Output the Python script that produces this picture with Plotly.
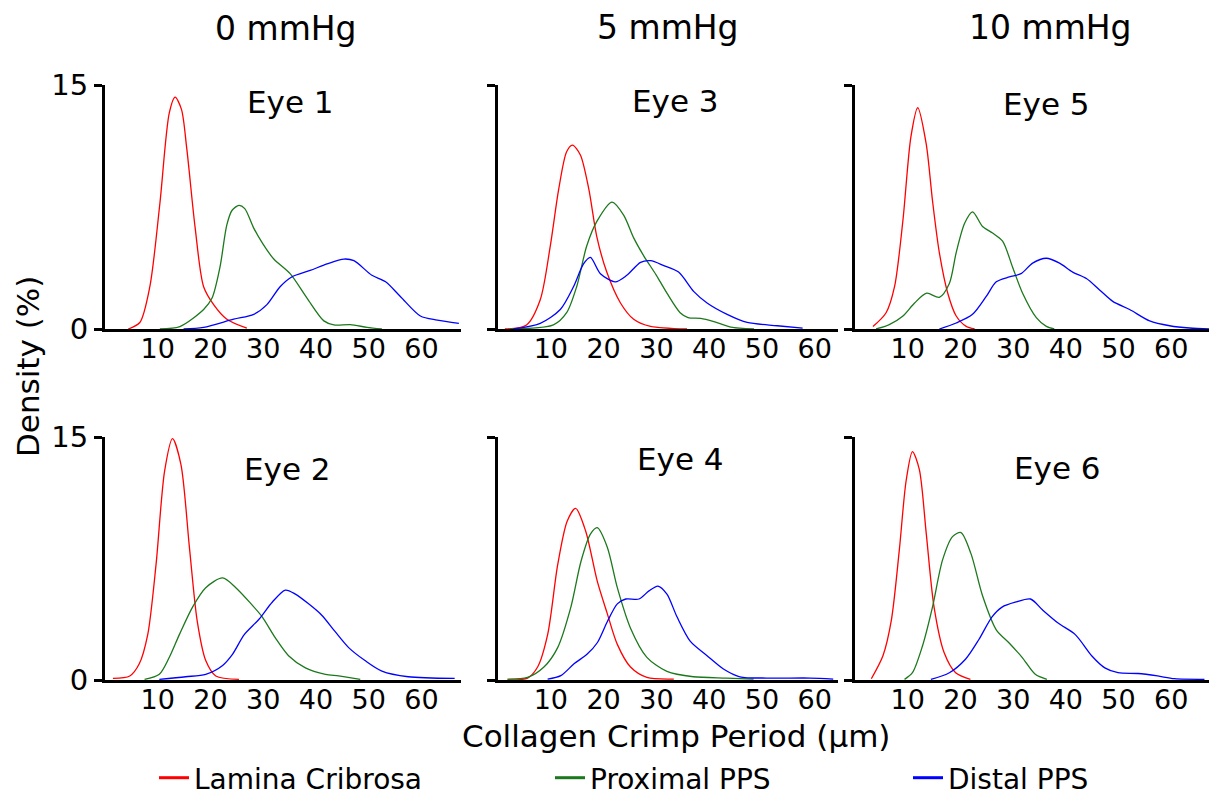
import plotly.graph_objects as go

# ---------------- data ----------------
TICKS_X = [10, 20, 30, 40, 50, 60]
TICKS_Y = [0, 15]
COL_TITLES = ["0 mmHg", "5 mmHg", "10 mmHg"]
SERIES_NAMES = ["Lamina Cribrosa", "Proximal PPS", "Distal PPS"]

# Eye 1
eye1_lc_x = [4.4, 6.6, 8.5, 10.4, 12.2, 13.3, 14.5, 15.5, 17.1, 18.7, 20.6, 23.1, 26.9]
eye1_lc_y = [0, 0.4, 2.6, 7.7, 13.3, 14.25, 13.5, 11.1, 6.2, 2.6, 1.5, 0.6, 0.05]
eye1_pp_x = [10.4, 14.2, 18.7, 20.3, 21.8, 23.1, 24.1, 25.4, 26.5, 28.2, 30.0, 32.0, 35.1, 38.3, 41.5, 43.4, 46.5, 49.7, 52.5]
eye1_pp_y = [0, 0.15, 1.2, 1.9, 3.8, 6.4, 7.3, 7.6, 7.4, 6.2, 5.2, 4.3, 3.4, 1.9, 0.5, 0.25, 0.27, 0.1, 0]
eye1_dp_x = [14.9, 18.7, 24.4, 28.2, 30.7, 33.2, 35.4, 38.9, 42.1, 45.3, 47.2, 50.6, 53.2, 56.0, 59.8, 63.0, 67.1]
eye1_dp_y = [0, 0.1, 0.6, 0.9, 1.5, 2.6, 3.2, 3.6, 4.0, 4.3, 4.2, 3.3, 2.9, 2.0, 0.8, 0.55, 0.35]

# Eye 2
eye2_lc_x = [1.5, 4.7, 6.5, 8.1, 9.7, 11.3, 12.8, 14.4, 16.0, 17.5, 19.1, 21.0, 25.4]
eye2_lc_y = [0.1, 0.25, 1.0, 2.8, 7.2, 12.9, 14.9, 13.3, 8.2, 3.6, 1.2, 0.25, 0.04]
eye2_pp_x = [7.5, 10.3, 12.2, 14.1, 16.6, 19.1, 22.3, 24.8, 27.7, 29.8, 32.3, 34.8, 38.0, 41.8, 44.3, 48.4]
eye2_pp_y = [0.04, 0.35, 1.4, 2.8, 4.5, 5.7, 6.3, 5.7, 4.7, 3.9, 2.6, 1.5, 0.75, 0.35, 0.25, 0.04]
eye2_dp_x = [10.3, 15.3, 19.1, 22.3, 24.2, 26.4, 29.2, 31.7, 34.2, 36.1, 38.6, 41.1, 43.6, 46.2, 49.3, 52.5, 57.5, 66.3]
eye2_dp_y = [0.04, 0.2, 0.35, 0.9, 1.6, 2.8, 3.75, 4.8, 5.55, 5.3, 4.7, 4.0, 3.0, 2.0, 1.2, 0.55, 0.2, 0.1]

# Eye 3
eye3_lc_x = [1.3, 5.4, 8.0, 9.9, 11.5, 13.0, 14.1, 15.6, 17.2, 18.7, 20.6, 23.2, 25.7, 28.9, 35.8]
eye3_lc_y = [0, 0.25, 1.8, 5.1, 8.6, 10.9, 11.3, 10.7, 8.6, 5.7, 3.5, 1.6, 0.6, 0.16, 0]
eye3_pp_x = [2.3, 10.5, 13.0, 14.9, 16.8, 18.7, 21.6, 23.8, 25.7, 27.6, 30.0, 32.0, 34.5, 36.0, 38.4, 40.9, 44.1, 48.5]
eye3_pp_y = [0, 0.25, 1.0, 2.6, 5.1, 6.6, 7.8, 7.0, 5.6, 4.5, 3.3, 2.2, 1.0, 0.7, 0.65, 0.45, 0.12, 0]
eye3_dp_x = [2.9, 8.0, 11.8, 14.3, 16.2, 17.5, 19.4, 22.2, 24.4, 27.0, 28.9, 31.4, 34.2, 37.1, 39.6, 43.4, 47.2, 52.9, 57.7]
eye3_dp_y = [0, 0.35, 1.2, 2.6, 4.0, 4.4, 3.4, 2.9, 3.3, 4.1, 4.2, 3.9, 3.5, 2.3, 1.6, 0.9, 0.4, 0.2, 0.05]

# Eye 4
eye4_lc_x = [1.8, 5.6, 7.5, 9.4, 11.3, 13.1, 14.7, 16.6, 18.8, 20.7, 22.6, 25.1, 28.2, 33.3]
eye4_lc_y = [0, 0.12, 0.8, 2.8, 7.1, 9.8, 10.6, 9.2, 6.1, 4.1, 2.2, 0.8, 0.16, 0.06]
eye4_pp_x = [1.8, 5.6, 8.7, 11.3, 13.8, 15.7, 17.5, 18.8, 20.7, 22.6, 25.1, 28.2, 32.0, 37.0, 43.3, 48.4]
eye4_pp_y = [0.06, 0.16, 0.8, 2.0, 4.5, 7.3, 9.0, 9.4, 8.2, 5.7, 3.2, 1.4, 0.53, 0.2, 0.12, 0.06]
eye4_dp_x = [9.4, 11.9, 14.4, 16.9, 18.8, 20.7, 22.6, 24.2, 26.7, 28.6, 30.3, 32.0, 33.9, 36.4, 39.6, 42.7, 45.8, 50.9, 59.1, 63.5]
eye4_dp_y = [0.06, 0.27, 1.0, 1.6, 2.3, 3.6, 4.7, 5.0, 5.0, 5.5, 5.8, 5.3, 3.9, 2.4, 1.5, 0.68, 0.2, 0.12, 0.12, 0.06]

# Eye 5
eye5_lc_x = [3.4, 5.9, 7.5, 9.1, 10.6, 11.9, 13.5, 14.7, 16.0, 17.6, 19.2, 21.1, 22.7]
eye5_lc_y = [0.15, 1.0, 2.6, 6.7, 11.8, 13.6, 11.4, 7.9, 4.7, 2.2, 0.8, 0.16, 0]
eye5_pp_x = [4.0, 6.5, 9.1, 11.3, 13.6, 16.0, 17.9, 19.2, 20.8, 22.3, 24.2, 26.1, 28.0, 29.9, 31.8, 34.4, 36.3, 37.8]
eye5_pp_y = [0, 0.27, 0.8, 1.6, 2.2, 1.95, 2.8, 4.7, 6.5, 7.2, 6.3, 5.9, 5.4, 3.8, 2.2, 0.7, 0.16, 0]
eye5_dp_x = [16.0, 19.2, 22.3, 24.9, 26.8, 29.3, 31.5, 33.7, 36.3, 38.8, 41.3, 43.9, 46.4, 48.9, 52.1, 55.9, 59.7, 63.5, 68.2]
eye5_dp_y = [0, 0.37, 0.9, 2.0, 2.9, 3.2, 3.4, 4.05, 4.35, 4.05, 3.5, 3.1, 2.4, 1.7, 1.2, 0.5, 0.2, 0.06, 0]

# Eye 6
eye6_lc_x = [3.1, 5.3, 6.9, 8.4, 9.7, 10.9, 12.2, 13.5, 15.0, 16.9, 19.1, 21.9]
eye6_lc_y = [0.08, 1.5, 3.7, 8.0, 12.3, 14.1, 13.0, 9.1, 4.5, 1.7, 0.45, 0.04]
eye6_pp_x = [9.4, 10.9, 12.8, 14.7, 16.6, 18.5, 20.1, 22.0, 24.2, 26.8, 29.2, 31.7, 34.2, 36.4]
eye6_pp_y = [0.04, 0.45, 2.1, 4.5, 7.4, 8.85, 9.1, 7.8, 5.2, 3.1, 2.3, 1.4, 0.35, 0.04]
eye6_dp_x = [14.4, 17.9, 21.0, 23.5, 26.0, 27.9, 30.4, 33.3, 35.5, 38.6, 41.8, 44.9, 47.4, 49.9, 53.7, 57.4, 60.6, 66.3]
eye6_dp_y = [0.04, 0.45, 1.3, 2.5, 3.9, 4.5, 4.8, 5.0, 4.35, 3.5, 2.8, 1.5, 0.75, 0.45, 0.4, 0.25, 0.08, 0.04]

# ---------------- layout / style ----------------
PAGE_OFFSET = 8            # default body margin of the html page
W, H = 1217 - PAGE_OFFSET, 796 - PAGE_OFFSET
FONT = "DejaVu Sans"
COLORS = ["#ff0000", "#1c781c", "#0000ff"]

# pixel geometry (in screenshot pixels) of the panels: (left, right) and (top, bottom)
COL_PX = [(105, 461), (498, 838), (855, 1215)]
ROW_PX = [(85, 329), (437, 680)]
X_MAX = [67.5, 64.4, 68.3]

panels = [
    # (eye label, row, col, series list)
    ("Eye 1", 0, 0, [(eye1_lc_x, eye1_lc_y), (eye1_pp_x, eye1_pp_y), (eye1_dp_x, eye1_dp_y)]),
    ("Eye 3", 0, 1, [(eye3_lc_x, eye3_lc_y), (eye3_pp_x, eye3_pp_y), (eye3_dp_x, eye3_dp_y)]),
    ("Eye 5", 0, 2, [(eye5_lc_x, eye5_lc_y), (eye5_pp_x, eye5_pp_y), (eye5_dp_x, eye5_dp_y)]),
    ("Eye 2", 1, 0, [(eye2_lc_x, eye2_lc_y), (eye2_pp_x, eye2_pp_y), (eye2_dp_x, eye2_dp_y)]),
    ("Eye 4", 1, 1, [(eye4_lc_x, eye4_lc_y), (eye4_pp_x, eye4_pp_y), (eye4_dp_x, eye4_dp_y)]),
    ("Eye 6", 1, 2, [(eye6_lc_x, eye6_lc_y), (eye6_pp_x, eye6_pp_y), (eye6_dp_x, eye6_dp_y)]),
]
# label centres in screenshot pixels
EYE_LABEL_PX = {"Eye 1": (290, 102), "Eye 3": (675, 101), "Eye 5": (1046, 104),
                "Eye 2": (287, 469), "Eye 4": (680, 459), "Eye 6": (1057, 468)}
COL_TITLE_PX = [(286, 29), (668, 28), (1050, 28)]


def px_x(p):
    return (p - PAGE_OFFSET) / W


def px_y(p):
    return 1 - (p - PAGE_OFFSET) / H


fig = go.Figure()
layout = dict(
    width=W, height=H,
    margin=dict(l=0, r=0, t=0, b=0, pad=0, autoexpand=False),
    paper_bgcolor="white", plot_bgcolor="white",
    font=dict(family=FONT, color="black"),
    showlegend=True,
)
annotations = []

for i, (label, r, c, series) in enumerate(panels):
    n = "" if i == 0 else str(i + 1)
    xa, ya = "x" + n, "y" + n
    for (sx, sy), color in zip(series, COLORS):
        fig.add_trace(go.Scatter(
            x=sx, y=sy, mode="lines", xaxis=xa, yaxis=ya,
            line=dict(color=color, width=1.3, shape="spline", smoothing=0.8),
            showlegend=False, hoverinfo="skip"))
    l, rr = COL_PX[c]
    t, b = ROW_PX[r]
    layout["xaxis" + n] = dict(
        domain=[px_x(l), px_x(rr)], range=[0, X_MAX[c]], anchor=ya,
        showline=True, linewidth=3, linecolor="black", showgrid=False, zeroline=False,
        tickmode="array", tickvals=TICKS_X, ticks="", ticklabelstandoff=-6,
        tickfont=dict(family=FONT, size=27, color="black"), fixedrange=True,
        automargin=False)
    layout["yaxis" + n] = dict(
        domain=[px_y(b), px_y(t)], range=[0, 15], anchor=xa,
        showline=True, linewidth=3, linecolor="black", showgrid=False, zeroline=False,
        tickmode="array", tickvals=TICKS_Y, ticks="outside", ticklen=8, tickwidth=3,
        tickcolor="black", showticklabels=(c == 0),
        tickfont=dict(family=FONT, size=29, color="black"), fixedrange=True,
        automargin=False)
    ex, ey = EYE_LABEL_PX[label]
    annotations.append(dict(text=label, x=px_x(ex), y=px_y(ey), xref="paper", yref="paper",
                            showarrow=False, xanchor="center", yanchor="middle",
                            font=dict(family=FONT, size=31, color="black")))

for title, (tx, ty) in zip(COL_TITLES, COL_TITLE_PX):
    annotations.append(dict(text=title, x=px_x(tx), y=px_y(ty), xref="paper", yref="paper",
                            showarrow=False, xanchor="center", yanchor="middle", borderpad=0,
                            font=dict(family=FONT, size=33, color="black")))

annotations.append(dict(text="Density (%)", x=px_x(28), y=px_y(367), xref="paper", yref="paper",
                        showarrow=False, textangle=-90, xanchor="center", yanchor="middle",
                        font=dict(family=FONT, size=31, color="black")))
annotations.append(dict(text="Collagen Crimp Period (µm)", x=px_x(676), y=px_y(736),
                        xref="paper", yref="paper", showarrow=False,
                        xanchor="center", yanchor="middle",
                        font=dict(family=FONT, size=31, color="black")))
layout["annotations"] = annotations

# legend entries (one legend per entry so each can be placed like the reference)
LEGEND_IDS = ["legend", "legend2", "legend3"]
LEGEND_LEFT_PX = [154, 550, 908]
for name, color, lid, lx in zip(SERIES_NAMES, COLORS, LEGEND_IDS, LEGEND_LEFT_PX):
    fig.add_trace(go.Scatter(x=[None], y=[None], mode="lines", name=name,
                             line=dict(color=color, width=3), legend=lid,
                             xaxis="x", yaxis="y", hoverinfo="skip"))
    layout[lid] = dict(x=px_x(lx), y=px_y(778), xanchor="left", yanchor="middle",
                       orientation="h", bgcolor="rgba(0,0,0,0)", borderwidth=0,
                       font=dict(family=FONT, size=28, color="black"),
                       itemwidth=30, itemclick=False, itemdoubleclick=False)

fig.update_layout(**layout)
fig.write_html("out.html")
